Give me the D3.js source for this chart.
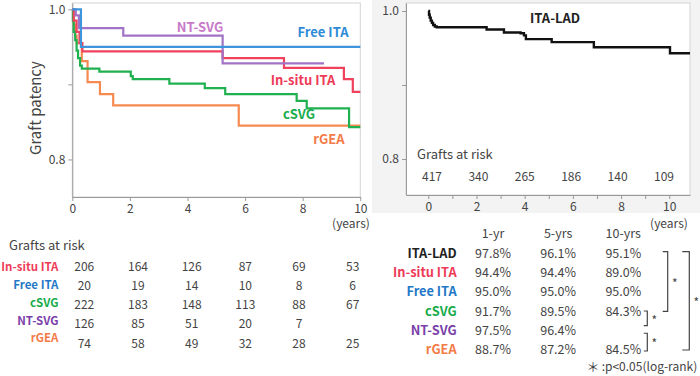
<!DOCTYPE html>
<html>
<head>
<meta charset="utf-8">
<script src="https://cdn.jsdelivr.net/npm/d3@7"></script>
<style>
  body { margin: 0; background: #fff; }
  svg text { font-family: "Noto Sans CJK JP", "Noto Sans", sans-serif; fill: #444; }
  .lbl { font-weight: bold; }
  .axis text { font-size: 12px; fill: #444; }
  .axis path, .axis line { stroke: #999; }
</style>
</head>
<body>
<div id="chart"></div>
<script>
// ---- data ----
const groups = ["In-situ ITA", "Free ITA", "cSVG", "NT-SVG", "rGEA"];
const lineColors = ["#f0425c", "#3f95dc", "#1fb150", "#a173c6", "#f68b52"];
const textColors = ["#ee3b58", "#1f78c6", "#17ac4c", "#7a3fa8", "#f47b48"];
const plotLabelColors = ["#ee3b58", "#2f8bd6", "#17ac4c", "#c77ac8", "#f47b48"];

// step curves: [years, patency]
const insituCurve = [[0,1],[0.05,0.985],[0.15,0.97],[0.25,0.955],[0.35,0.944],[5.22,0.935],[7.35,0.922],[9.43,0.907],[9.74,0.89],[10,0.89]];
const freeCurve = [[0,1],[0.3,0.95],[10,0.95]];
const csvgCurve = [[0,1],[0.02,0.985],[0.05,0.97],[0.1,0.959],[0.15,0.945],[0.2,0.935],[0.27,0.925],[0.33,0.921],[0.94,0.917],[2.03,0.911],[2.1,0.907],[3.37,0.901],[4.6,0.895],[5.31,0.887],[7.79,0.878],[8.14,0.868],[9.61,0.843],[10,0.843]];
const ntsvgCurve = [[0,1],[0.12,0.992],[0.23,0.975],[1.77,0.965],[5.22,0.928],[8.74,0.928]];
const rgeaCurve = [[0,1],[0.05,0.98],[0.1,0.965],[0.15,0.955],[0.33,0.931],[0.53,0.903],[0.96,0.887],[1.42,0.872],[5.78,0.845],[10,0.845]];
const itaLadCurve = [[0,1],[0.03,0.995],[0.06,0.991],[0.1,0.987],[0.15,0.984],[0.2,0.981],[0.27,0.979],[0.35,0.978],[2.42,0.975],[3.14,0.971],[3.83,0.97],[3.97,0.967],[4.05,0.962],[5.12,0.958],[6.87,0.951],[10.03,0.943],[10.86,0.943]];
const curves = [insituCurve, freeCurve, csvgCurve, ntsvgCurve, rgeaCurve];

const riskYears = [0, 2, 4, 6, 8, 10];
const riskInsitu = [206, 164, 126, 87, 69, 53];
const riskFree = [20, 19, 14, 10, 8, 6];
const riskCsvg = [222, 183, 148, 113, 88, 67];
const riskNtsvg = [126, 85, 51, 20, 7, null];
const riskRgea = [74, 58, 49, 32, 28, 25];
const riskRows = [riskInsitu, riskFree, riskCsvg, riskNtsvg, riskRgea];
const riskItaLad = [417, 340, 265, 186, 140, 109];

const tableGroups = ["ITA-LAD", "In-situ ITA", "Free ITA", "cSVG", "NT-SVG", "rGEA"];
const tableColors = ["#222", "#ee3b58", "#1f78c6", "#17ac4c", "#7a3fa8", "#f47b48"];
const tableHeads = ["1-yr", "5-yrs", "10-yrs"];
const yr1 = ["97.8%", "94.4%", "95.0%", "91.7%", "97.5%", "88.7%"];
const yr5 = ["96.1%", "94.4%", "95.0%", "89.5%", "96.4%", "87.2%"];
const yr10 = ["95.1%", "89.0%", "95.0%", "84.3%", "", "84.5%"];
// significance brackets: rows compared
const brackets = [{from: 0, to: 3, lvl: 1}, {from: 0, to: 5, lvl: 2}, {from: 3, to: 4, lvl: 0}, {from: 4, to: 5, lvl: 0}];

// ---- svg ----
const svg = d3.select("#chart").append("svg")
  .attr("width", 700).attr("height", 376);

// ---- left plot ----
const xL = d3.scaleLinear().domain([0, 10]).range([72.3, 360.3]);
const yL = d3.scaleLinear().domain([0.75, 1.0084]).range([197, 3]);

svg.append("rect")
  .attr("x", xL(0)).attr("y", yL(1.0084))
  .attr("width", xL(10) - xL(0)).attr("height", yL(0.75) - yL(1.0084))
  .attr("fill", "#fff").attr("stroke", "#d4d4d4");

svg.append("g").attr("class", "axis")
  .attr("transform", "translate(" + xL(0) + ",0)")
  .call(d3.axisLeft(yL).tickValues([0.8, 0.9, 1.0]).tickSize(4).tickSizeOuter(0)
    .tickFormat(d => d === 0.9 ? "" : d3.format(".1f")(d)));

svg.append("g").attr("class", "axis")
  .attr("transform", "translate(0," + yL(0.75) + ")")
  .call(d3.axisBottom(xL).tickValues([0, 2, 4, 6, 8, 10]).tickSize(4).tickSizeOuter(0));

svg.append("text")
  .attr("x", 351).attr("y", 224.5).attr("text-anchor", "middle")
  .attr("dominant-baseline", "middle").style("font-size", "12px")
  .text("(years)");

svg.append("text")
  .attr("transform", "rotate(-90)")
  .attr("x", -108).attr("y", 37)
  .attr("text-anchor", "middle").attr("dominant-baseline", "middle")
  .style("font-size", "15px")
  .text("Graft patency");

const lineL = d3.line().x(d => xL(d[0])).y(d => yL(d[1])).curve(d3.curveStepAfter);
const drawOrder = [4, 2, 0, 3, 1];
drawOrder.forEach(i => {
  svg.append("path")
    .attr("d", lineL(curves[i]))
    .attr("fill", "none")
    .attr("stroke", lineColors[i])
    .attr("stroke-width", 2.2);
});

// curve labels
const curveLabelPos = [[303, 81], [323, 33], [299, 115], [200, 28], [329, 140]];
groups.forEach((g, i) => {
  svg.append("text").attr("class", "lbl")
    .attr("x", curveLabelPos[i][0]).attr("y", curveLabelPos[i][1])
    .attr("text-anchor", "middle").attr("dominant-baseline", "middle")
    .style("font-size", "13px")
    .style("fill", plotLabelColors[i])
    .text(g);
});

// left risk table
const colL = d3.scaleLinear().domain([0, 10]).range([84.3, 352.7]);
svg.append("text")
  .attr("x", 9).attr("y", 246).attr("dominant-baseline", "middle")
  .style("font-size", "13px").text("Grafts at risk");

groups.forEach((g, i) => {
  svg.append("text").attr("class", "lbl")
    .attr("x", 58.5).attr("y", 267.7 + i * 17.9)
    .attr("text-anchor", "end").attr("dominant-baseline", "middle")
    .style("font-size", "11.5px").style("fill", textColors[i])
    .text(g);
  riskRows[i].forEach((v, j) => {
    if (v === null) return;
    svg.append("text")
      .attr("x", colL(riskYears[j])).attr("y", 267.3 + i * 19.25)
      .attr("text-anchor", "middle").attr("dominant-baseline", "middle")
      .style("font-size", "12px")
      .text(v);
  });
});

// ---- right plot ----
svg.append("rect")
  .attr("x", 372).attr("y", 0).attr("width", 328).attr("height", 213)
  .attr("fill", "#f3f3f3");

const xR = d3.scaleLinear().domain([-0.925, 10.86]).range([406, 690]);
const yR = d3.scaleLinear().domain([0.7514, 1.0108]).range([195, 3]);

svg.append("rect")
  .attr("x", xR(-0.925)).attr("y", yR(1.0108))
  .attr("width", xR(10.86) - xR(-0.925)).attr("height", yR(0.7514) - yR(1.0108))
  .attr("fill", "#fff").attr("stroke", "#d4d4d4");

svg.append("g").attr("class", "axis")
  .attr("transform", "translate(" + xR(-0.925) + ",0)")
  .call(d3.axisLeft(yR).tickValues([0.8, 0.9, 1.0]).tickSize(4).tickSizeOuter(0)
    .tickFormat(d => d === 0.9 ? "" : d3.format(".1f")(d)));

svg.append("g").attr("class", "axis")
  .attr("transform", "translate(0," + yR(0.7514) + ")")
  .call(d3.axisBottom(xR).tickValues(d3.range(0, 11)).tickSize(4).tickSizeOuter(0)
    .tickFormat(d => d % 2 === 0 ? d : ""));

svg.append("text")
  .attr("x", 669).attr("y", 224.5).attr("text-anchor", "middle")
  .attr("dominant-baseline", "middle").style("font-size", "12px")
  .text("(years)");

const lineR = d3.line().x(d => xR(d[0])).y(d => yR(d[1])).curve(d3.curveStepAfter);
svg.append("path")
  .attr("d", lineR(itaLadCurve))
  .attr("fill", "none").attr("stroke", "#111").attr("stroke-width", 2.4);

svg.append("text").attr("class", "lbl")
  .attr("x", 555).attr("y", 19).attr("text-anchor", "middle")
  .attr("dominant-baseline", "middle").style("font-size", "13px")
  .style("fill", "#222").text("ITA-LAD");

svg.append("text")
  .attr("x", 417).attr("y", 155).attr("dominant-baseline", "middle")
  .style("font-size", "13px").text("Grafts at risk");

const colR = d3.scaleLinear().domain([0, 10]).range([432, 664]);
riskItaLad.forEach((v, j) => {
  svg.append("text")
    .attr("x", colR(riskYears[j])).attr("y", 178)
    .attr("text-anchor", "middle").attr("dominant-baseline", "middle")
    .style("font-size", "12px").text(v);
});

// ---- summary table ----
const colT = d3.scalePoint().domain(tableHeads).range([493, 623.3]);
const rowT = d3.scaleLinear().domain([0, 5]).range([254.3, 351]);

tableHeads.forEach(h => {
  svg.append("text")
    .attr("x", colT(h)).attr("y", 235)
    .attr("text-anchor", "middle").attr("dominant-baseline", "middle")
    .style("font-size", "12.5px").text(h);
});

tableGroups.forEach((g, i) => {
  svg.append("text").attr("class", "lbl")
    .attr("x", 456.7).attr("y", rowT(i))
    .attr("text-anchor", "end").attr("dominant-baseline", "middle")
    .style("font-size", "12.8px").style("fill", tableColors[i])
    .text(g);
  [yr1, yr5, yr10].forEach((col, k) => {
    svg.append("text")
      .attr("x", colT(tableHeads[k])).attr("y", rowT(i))
      .attr("text-anchor", "middle").attr("dominant-baseline", "middle")
      .style("font-size", "12.5px").text(col[i]);
  });
});

// brackets
const bracketX = [647.3, 667.7, 689.3];
const bracketTick = [3.5, 5, 7];
brackets.forEach(b => {
  const short = b.to - b.from === 1;
  const first = short && b.from === 3;
  const y1 = rowT(b.from) + (short ? (first ? -1.3 : 1.6) : -2.6);
  const y2 = rowT(b.to) + (short ? (first ? -6 : 0) : -1);
  const x = bracketX[b.lvl], t = bracketTick[b.lvl];
  svg.append("path")
    .attr("d", "M" + (x - t) + "," + y1 + "H" + x + "V" + y2 + "H" + (x - t))
    .attr("fill", "none").attr("stroke", "#444").attr("stroke-width", 1.2);
  svg.append("text")
    .attr("x", x + 7).attr("y", (y1 + y2) / 2 + 3)
    .attr("text-anchor", "middle").attr("dominant-baseline", "middle")
    .style("font-size", "12px").text("*");
});

// footnote
svg.append("text")
  .attr("x", 593).attr("y", 368).attr("text-anchor", "middle")
  .attr("dominant-baseline", "middle").style("font-size", "13px").text("＊");
svg.append("text")
  .attr("x", 601.7).attr("y", 367.7)
  .attr("dominant-baseline", "middle").style("font-size", "12px")
  .text(":p<0.05(log-rank)");
</script>
</body>
</html>
